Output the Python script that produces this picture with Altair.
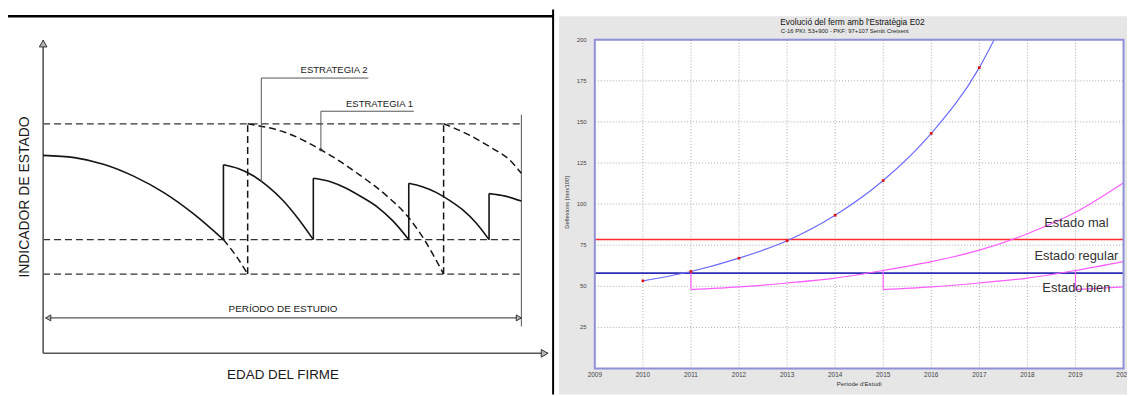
import altair as alt
import pandas as pd

# ====================== DATA ======================
# ---- Left schematic (units: edad del firme 0-100, indicador de estado 0-100)
nivel_sup = 73.3
nivel_med = 36.3
nivel_inf = 25.3
fin_estudio = 94.7
fin_linea_y = [8.6, 76.2]
periodo_y = 11.3
periodo_x = [0.5, 94.7]

# Estrategia 2 (solid curve), segments between interventions
e2_x = [
    [0.0, 6.2, 12.1, 18.0, 23.9, 29.8, 35.7],
    [35.7, 38.6, 41.6, 44.5, 47.5, 50.4, 53.5],
    [53.5, 56.9, 59.9, 63.0, 66.2, 69.3, 72.4],
    [72.4, 75.1, 77.8, 80.4, 83.1, 85.7, 88.3],
    [88.3, 91.5, 94.7],
]
e2_y = [
    [63.2, 62.5, 60.3, 56.5, 51.3, 44.5, 36.3],
    [60.2, 59.0, 56.7, 53.3, 48.8, 43.2, 36.3],
    [55.9, 54.8, 52.8, 50.0, 46.7, 42.2, 36.3],
    [54.3, 53.2, 51.4, 48.9, 45.8, 41.7, 36.3],
    [51.0, 50.2, 48.6],
]
e2_salto_x = [35.7, 53.5, 72.4, 88.3]
e2_salto_top = [60.2, 55.9, 54.3, 51.0]

# Estrategia 1 (dashed curve)
e1_x = [
    [35.7, 38.3, 40.5],
    [40.5, 48.5, 55.0, 62.2, 68.1, 72.1, 75.4, 79.3],
    [79.3, 84.5, 88.5, 92.4, 94.7],
]
e1_y = [
    [36.3, 30.9, 25.3],
    [73.3, 70.2, 65.0, 57.5, 50.2, 43.9, 36.5, 25.3],
    [73.3, 69.6, 65.9, 61.7, 57.5],
]
e1_salto_x = [40.5, 79.3]

# leader lines for the strategy labels
leader2_x = [43.2, 43.2, 64.4]
leader2_y = [54.8, 87.9, 87.9]
leader1_x = [55.0, 55.0, 73.4]
leader1_y = [65.0, 77.3, 77.3]

# arrow heads
flecha_x = [0.0, 99.3, 1.0, 94.2]
flecha_y = [98.9, 0.0, 11.3, 11.3]
flecha_forma = ["triangle-up", "triangle-right", "triangle-left", "triangle-right"]
flecha_tam = [60, 60, 36, 36]

# ---- Right chart: Evolució del ferm amb l'Estratègia E02
anys_ticks = list(range(2009, 2021))
anys_grid = list(range(2010, 2020))
defl_ticks = [25, 50, 75, 100, 125, 150, 175, 200]
defl_grid = [25, 50, 75, 100, 125, 150, 175]

sense_anys = [2010, 2011, 2012, 2013, 2014, 2015, 2016, 2017, 2017.31]
sense_vals = [53.3, 59.0, 67.1, 77.7, 93.2, 114.3, 143.0, 183.0, 200.0]

mag_a_anys = [2011, 2012, 2013, 2014, 2015, 2016, 2017, 2018, 2019, 2020]
mag_a_vals = [48.0, 49.6, 52.0, 55.0, 59.6, 65.0, 72.0, 82.0, 95.0, 113.0]
mag_b_anys = [2015, 2016, 2017, 2018, 2019, 2020]
mag_b_vals = [48.0, 49.6, 52.0, 55.0, 59.6, 65.0]
mag_c_anys = [2019, 2020]
mag_c_vals = [48.0, 49.6]
reset_anys = [2011, 2015, 2019]
reset_top = [59.0, 59.6, 59.6]
reset_bottom = [48.0, 48.0, 48.0]

umbral_mal = 78.5
umbral_bien = 58.0
estado_textos = ["Estado mal", "Estado regular", "Estado bien"]
estado_vals = [88.4, 68.7, 49.2]
estado_any = 2019.02

# ====================== LAYOUT ======================
W, H = 1127, 388
FONT = "Liberation Sans"


def xdom(px0, px1, v0, v1):
    k = (v1 - v0) / (px1 - px0)
    d0 = v0 - px0 * k
    return [d0, d0 + W * k]


def ydom(py0, py1, v0, v1):
    k = (v1 - v0) / (py0 - py1)
    d0 = v0 - (H - py0) * k
    return [d0, d0 + H * k]


XL_DOM = xdom(35.4, 544.0, 0, 100)
YL_DOM = ydom(346.4, 31.0, 0, 100)
XR_DOM = xdom(591.0, 1123.5, 2009, 2020)
YR_DOM = ydom(361.7, 30.5, 0, 200)


def sc(dom):
    return alt.Scale(domain=dom, nice=False, zero=False)


def XL(f):
    return alt.X(f, type="quantitative", scale=sc(XL_DOM), axis=None)


def YL(f):
    return alt.Y(f, type="quantitative", scale=sc(YL_DOM), axis=None)


def XR(f):
    return alt.X(f, type="quantitative", scale=sc(XR_DOM), axis=None)


def YR(f):
    return alt.Y(f, type="quantitative", scale=sc(YR_DOM), axis=None)


def seg_df(xs_list, ys_list):
    rows = []
    for i, (xs, ys) in enumerate(zip(xs_list, ys_list)):
        for x, y in zip(xs, ys):
            rows.append({"seg": i, "x": x, "y": y})
    return pd.DataFrame(rows)


one = pd.DataFrame({"a": [0]})
L = []

# ---- decoration: panel backgrounds and frame
L.append(alt.Chart(one).mark_rect(fill="#e6e6e6").encode(
    x=alt.value(555), x2=alt.value(W), y=alt.value(7), y2=alt.value(H)))
L.append(alt.Chart(one).mark_rule(color="#000", strokeWidth=2.5).encode(
    x=alt.value(0), x2=alt.value(549), y=alt.value(7)))
L.append(alt.Chart(one).mark_rule(color="#000", strokeWidth=2).encode(
    x=alt.value(549), y=alt.value(0), y2=alt.value(H)))

# ================= LEFT SCHEMATIC =================
DARK = "#151515"
niv = pd.DataFrame({"y": [nivel_sup, nivel_med, nivel_inf], "x0": 0.0, "x1": fin_estudio})
L.append(alt.Chart(niv).mark_rule(color="#333", strokeWidth=1.3, strokeDash=[7, 4]).encode(
    x=XL("x0"), x2=alt.X2("x1"), y=YL("y")))

ejes = pd.DataFrame({"x0": [0.0, 0.0], "x1": [0.0, 100.0], "y0": [0.0, 0.0], "y1": [100.0, 0.0]})
L.append(alt.Chart(ejes).mark_rule(color="#555", strokeWidth=1.6).encode(
    x=XL("x0"), x2=alt.X2("x1"), y=YL("y0"), y2=alt.Y2("y1")))

fin = pd.DataFrame({"x": [fin_estudio], "y0": [fin_linea_y[0]], "y1": [fin_linea_y[1]]})
L.append(alt.Chart(fin).mark_rule(color="#555", strokeWidth=1).encode(
    x=XL("x"), y=YL("y0"), y2=alt.Y2("y1")))

per = pd.DataFrame({"x0": [periodo_x[0]], "x1": [periodo_x[1]], "y": [periodo_y]})
L.append(alt.Chart(per).mark_rule(color="#555", strokeWidth=1.2).encode(
    x=XL("x0"), x2=alt.X2("x1"), y=YL("y")))

fl = pd.DataFrame({"x": flecha_x, "y": flecha_y, "s": flecha_forma, "t": flecha_tam})
L.append(alt.Chart(fl).mark_point(filled=True, fill="#b5b5b5", stroke="#333", strokeWidth=1, opacity=1).encode(
    x=XL("x"), y=YL("y"), shape=alt.Shape("s:N", scale=None), size=alt.Size("t:Q", scale=None)))

# Estrategia 2 solid
L.append(alt.Chart(seg_df(e2_x, e2_y)).mark_line(color=DARK, strokeWidth=1.6, interpolate="monotone").encode(
    x=XL("x"), y=YL("y"), detail="seg:N"))
s2 = pd.DataFrame({"x": e2_salto_x, "y0": nivel_med, "y1": e2_salto_top})
L.append(alt.Chart(s2).mark_rule(color=DARK, strokeWidth=1.6).encode(
    x=XL("x"), y=YL("y0"), y2=alt.Y2("y1")))

# Estrategia 1 dashed
L.append(alt.Chart(seg_df(e1_x, e1_y)).mark_line(color=DARK, strokeWidth=1.5, strokeDash=[7, 4],
                                                 interpolate="monotone").encode(
    x=XL("x"), y=YL("y"), detail="seg:N"))
s1 = pd.DataFrame({"x": e1_salto_x, "y0": nivel_inf, "y1": nivel_sup})
L.append(alt.Chart(s1).mark_rule(color=DARK, strokeWidth=1.5, strokeDash=[7, 4]).encode(
    x=XL("x"), y=YL("y0"), y2=alt.Y2("y1")))

# leaders
for lx, ly in ((leader2_x, leader2_y), (leader1_x, leader1_y)):
    d = pd.DataFrame({"x": lx, "y": ly, "i": list(range(len(lx)))})
    L.append(alt.Chart(d).mark_line(color="#555", strokeWidth=1).encode(
        x=XL("x"), y=YL("y"), order="i:Q"))
L.append(alt.Chart(pd.DataFrame({"x": [leader1_x[0]], "y": [leader1_y[0]]})).mark_circle(
    color="#333", size=10, opacity=1).encode(x=XL("x"), y=YL("y")))


# texts
def ltext(t, x, y, size, angle=0, align="center"):
    d = pd.DataFrame({"t": [t], "x": [x], "y": [y]})
    kw = dict(font=FONT, fontSize=size, color="#1a1a1a", align=align, baseline="middle")
    if angle:
        kw["angle"] = angle
    return alt.Chart(d).mark_text(**kw).encode(x=XL("x"), y=YL("y"), text="t:N")


L.append(ltext("ESTRATEGIA 2", 57.6, 90.4, 9.6))
L.append(ltext("ESTRATEGIA 1", 66.6, 79.6, 9.6))
L.append(ltext("PERÍODO DE ESTUDIO", 47.5, 14.1, 10))
L.append(ltext("EDAD DEL FIRME", 47.5, -6.8, 13.5))
L.append(ltext("INDICADOR DE ESTADO", -3.6, 49.9, 14, angle=270))

# ================= RIGHT CHART =================
plot = pd.DataFrame({"x0": [2009], "x1": [2020], "y0": [0], "y1": [200]})
L.append(alt.Chart(plot).mark_rect(fill="white").encode(
    x=XR("x0"), x2=alt.X2("x1"), y=YR("y0"), y2=alt.Y2("y1")))

gv = pd.DataFrame({"x": anys_grid, "y0": 0, "y1": 200})
L.append(alt.Chart(gv).mark_rule(color="#a9a9a9", strokeWidth=1, strokeDash=[1, 2]).encode(
    x=XR("x"), y=YR("y0"), y2=alt.Y2("y1")))
gh = pd.DataFrame({"y": defl_grid, "x0": 2009, "x1": 2020})
L.append(alt.Chart(gh).mark_rule(color="#a9a9a9", strokeWidth=1, strokeDash=[1, 2]).encode(
    y=YR("y"), x=XR("x0"), x2=alt.X2("x1")))

um = pd.DataFrame({"y": [umbral_mal, umbral_bien], "c": ["#ff2b2b", "#2b2bb5"], "x0": 2009, "x1": 2020})
L.append(alt.Chart(um).mark_rule(strokeWidth=1.6).encode(
    y=YR("y"), x=XR("x0"), x2=alt.X2("x1"), color=alt.Color("c:N", scale=None)))

mag = seg_df([mag_a_anys, mag_b_anys, mag_c_anys], [mag_a_vals, mag_b_vals, mag_c_vals])
L.append(alt.Chart(mag).mark_line(color="#ff5cff", strokeWidth=1.2, interpolate="monotone").encode(
    x=XR("x"), y=YR("y"), detail="seg:N"))
rs = pd.DataFrame({"x": reset_anys, "y0": reset_bottom, "y1": reset_top})
L.append(alt.Chart(rs).mark_rule(color="#ff5cff", strokeWidth=1.2).encode(
    x=XR("x"), y=YR("y0"), y2=alt.Y2("y1")))

sd = pd.DataFrame({"x": sense_anys, "y": sense_vals})
L.append(alt.Chart(sd).mark_line(color="#6b6bff", strokeWidth=1.2, interpolate="monotone").encode(
    x=XR("x"), y=YR("y")))
pts = pd.DataFrame({"x": sense_anys[:8], "y": sense_vals[:8]})
L.append(alt.Chart(pts).mark_square(color="#e01010", size=7, opacity=1).encode(
    x=XR("x"), y=YR("y")))

L.append(alt.Chart(plot).mark_rect(fillOpacity=0, stroke="#9090d8", strokeWidth=2).encode(
    x=XR("x0"), x2=alt.X2("x1"), y=YR("y0"), y2=alt.Y2("y1")))

# tick labels
xl = pd.DataFrame({"x": anys_ticks, "y": -4.2, "t": [str(a) for a in anys_ticks]})
L.append(alt.Chart(xl).mark_text(font=FONT, fontSize=6.5, color="#444", baseline="middle").encode(
    x=XR("x"), y=YR("y"), text="t:N"))
yl = pd.DataFrame({"x": 2008.83, "y": defl_ticks, "t": [str(v) for v in defl_ticks]})
L.append(alt.Chart(yl).mark_text(font=FONT, fontSize=6, color="#444", baseline="middle", align="right").encode(
    x=XR("x"), y=YR("y"), text="t:N"))


def rtext(t, x, y, size, angle=0, color="#333", weight="normal"):
    d = pd.DataFrame({"t": [t], "x": [x], "y": [y]})
    kw = dict(font=FONT, fontSize=size, color=color, align="center", baseline="middle", fontWeight=weight)
    if angle:
        kw["angle"] = angle
    return alt.Chart(d).mark_text(**kw).encode(x=XR("x"), y=YR("y"), text="t:N")


L.append(rtext("Evolució del ferm amb l'Estratègia E02", 2014.36, 210.9, 8.5, color="#111"))
L.append(rtext("C-16   PKI: 53+900 - PKF: 97+107   Sentit Creixent", 2014.2, 205.3, 6, color="#222"))
L.append(rtext("Període d'Estudi", 2014.5, -9.3, 6.2, color="#333"))
L.append(rtext("Deflexions  [mm/100]", 2008.43, 101.0, 5.8, angle=270, color="#333"))

for t, v in zip(estado_textos, estado_vals):
    L.append(rtext(t, estado_any, v, 13, color="#333"))

chart = alt.layer(*L).resolve_scale(x="independent", y="independent").properties(
    width=W, height=H, padding=0, background="white",
    autosize=alt.AutoSizeParams(type="none"),
).configure_view(strokeWidth=0)

chart.save("out.html", embed_options={"renderer": "svg", "actions": False})
